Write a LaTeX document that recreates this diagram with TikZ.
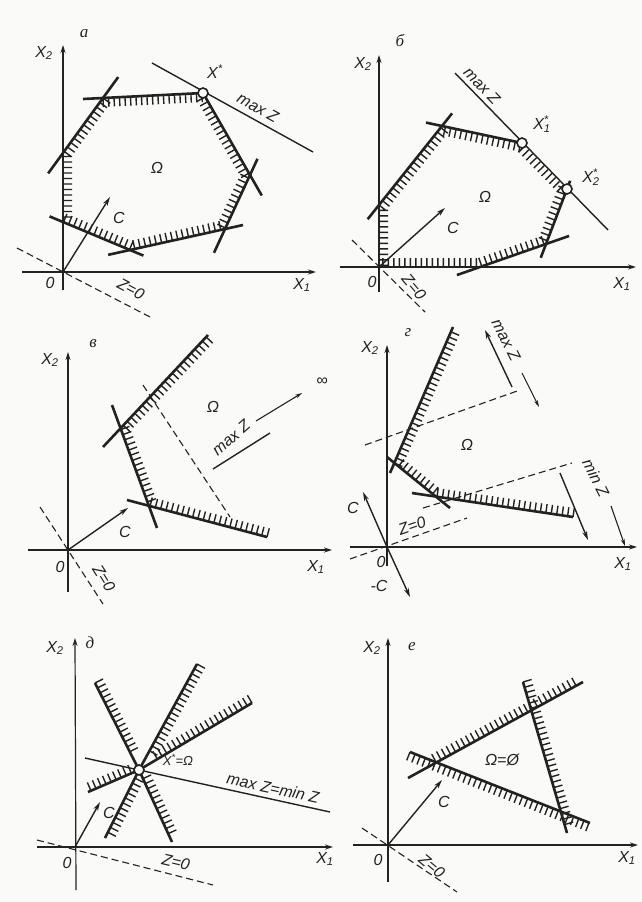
\documentclass[tikz,border=0pt]{standalone}
\usepackage{fontspec}
\setmainfont{Liberation Sans}
\newfontfamily\cyrfont{Liberation Serif}
\usetikzlibrary{calc,arrows.meta,decorations.pathreplacing}
\definecolor{ink}{RGB}{34,34,34}
\definecolor{paper}{RGB}{250,250,248}
\newcommand{\Xs}[1]{X\textsubscript{#1}}
\newcommand{\Xst}[1]{X\rlap{\textsuperscript{*}}\textsubscript{#1}}
\begin{document}
\begin{tikzpicture}[x=1pt,y=-1pt,
  ax/.style={draw=ink,line width=1.2pt,-{Stealth[length=8pt,width=5pt]}},
  cl/.style={draw=ink,line width=2.6pt},
  ml/.style={draw=ink,line width=1.4pt},
  hR/.style={draw=ink,line width=1.4pt,decorate,decoration={border,segment length=5.5pt,amplitude=-9pt,angle=90}},
  hL/.style={draw=ink,line width=1.4pt,decorate,decoration={border,segment length=5.5pt,amplitude=9pt,angle=90}},
  lv/.style={draw=ink,line width=1.1pt,dash pattern=on 7pt off 4pt},
  vec/.style={draw=ink,line width=1.4pt,-{Stealth[length=9pt,width=5pt]}},
  sa/.style={draw=ink,line width=1.1pt,-{Stealth[length=7pt,width=4pt]}},
  lb/.style={text=ink,inner sep=1pt,font=\fontsize{16}{18}\selectfont\itshape},
  sl/.style={text=ink,inner sep=1pt,font=\fontsize{13}{15}\selectfont\itshape},
  pl/.style={text=ink,inner sep=1pt,font=\fontsize{17}{19}\selectfont\cyrfont\itshape},
  pt/.style={circle,draw=ink,line width=1.6pt,fill=paper,minimum size=10pt,inner sep=0pt}
]
\fill[paper] (0,0) rectangle (641,902);
\useasboundingbox (0,0) rectangle (641,902);

% ================= Panel a =================
\coordinate (aO) at (63,272);
\coordinate (aYb) at (63,290); \coordinate (aYt) at (63,45);
\coordinate (aXl) at (22,272); \coordinate (aXr) at (316,272);
\draw[ax] (aYb) -- (aYt);
\draw[ax] (aXl) -- (aXr);
\coordinate (A1) at (103,98);
\coordinate (A2) at (203,93);
\coordinate (A3) at (250,175);
\coordinate (A4) at (225,229);
\coordinate (A5) at (130,250);
\coordinate (A6) at (63,222);
\coordinate (A7) at (63,153);
\draw[cl] ($(A1)!-0.2!(A2)$) -- (A2);
\draw[cl] ($(A7)!-0.37!(A1)$) -- ($(A1)!-0.38!(A7)$);
\draw[cl] ($(A6)!-0.2!(A5)$) -- ($(A5)!-0.2!(A6)$);
\draw[cl] ($(A5)!-0.23!(A4)$) -- ($(A4)!-0.19!(A5)$);
\draw[cl] ($(A4)!-0.44!(A3)$) -- ($(A3)!-0.3!(A4)$);
\draw[cl] (A2) -- ($(A3)!-0.25!(A2)$);
\draw[hR] (A1) -- (A2) -- (A3) -- (A4) -- (A5) -- (A6) -- (A7) -- (A1);
\coordinate (aM1) at (152,63); \coordinate (aM2) at (313,152);
\draw[ml] (aM1) -- (aM2);
\node[pt] (aXs) at (A2) {};
\node[lb] (aXsl) at (215,72) {X\textsuperscript{*}};
\node[lb,rotate=-29] (aMl) at (258,108) {max Z};
\node[lb] (aOm) at (157,168) {Ω};
\coordinate (aC) at (110,197);
\draw[vec] (aO) -- (aC);
\node[lb] (aCl) at (119,218) {C};
\coordinate (aZ1) at (17,248); \coordinate (aZ2) at (150,317);
\draw[lv] (aZ1) -- (aZ2);
\node[lb,rotate=-28] (aZl) at (131,289) {Z=0};
\node[lb] (aX2) at (44,53) {\Xs{2}};
\node[lb] (aX1) at (302,285) {\Xs{1}};
\node[lb] (aO0) at (50,283) {0};
\node[pl] (aP) at (84,34) {а};

% ================= Panel b =================
\coordinate (bO) at (379,267);
\coordinate (bYb) at (379,292); \coordinate (bYt) at (379,55);
\coordinate (bXl) at (340,267); \coordinate (bXr) at (636,267);
\draw[ax] (bYb) -- (bYt);
\draw[ax] (bXl) -- (bXr);
\coordinate (B1) at (379,205);
\coordinate (B2) at (442,126);
\coordinate (B3) at (522,143);
\coordinate (B4) at (567,189);
\coordinate (B5) at (546,244);
\coordinate (B6) at (480,267);
\draw[cl] ($(B1)!-0.18!(B2)$) -- ($(B2)!-0.16!(B1)$);
\draw[cl] ($(B2)!-0.2!(B3)$) -- (B3);
\draw[cl] ($(B5)!-0.25!(B4)$) -- ($(B4)!-0.15!(B5)$);
\draw[cl] ($(B6)!-0.35!(B5)$) -- ($(B5)!-0.35!(B6)$);
\coordinate (bM1) at (455,73); \coordinate (bM2) at (608,230);
\draw[ml] (bM1) -- (bM2);
\draw[hR] (B1) -- (B2) -- (B3) -- (B4) -- (B5) -- (B6) -- (bO) -- (B1);
\node[pt] (bX1) at (B3) {};
\node[pt] (bX2) at (B4) {};
\node[lb] (bX1l) at (542,124) {\Xst{1}};
\node[lb] (bX2l) at (591,177) {\Xst{2}};
\node[lb,rotate=-46] (bMl) at (482,86) {max Z};
\node[lb] (bOm) at (485,197) {Ω};
\coordinate (bC) at (445,208);
\draw[vec] (bO) -- (bC);
\node[lb] (bCl) at (453,228) {C};
\coordinate (bZ1) at (352,240); \coordinate (bZ2) at (425,312);
\draw[lv] (bZ1) -- (bZ2);
\node[lb,rotate=-50] (bZl) at (414,287) {Z=0};
\node[lb] (bX2a) at (363,64) {\Xs{2}};
\node[lb] (bX1a) at (622,284) {\Xs{1}};
\node[lb] (bO0) at (372,282) {0};
\node[pl] (bP) at (400,40) {б};

% ================= Panel v =================
\coordinate (vO) at (68,550);
\coordinate (vYb) at (68,592); \coordinate (vYt) at (68,352);
\coordinate (vXl) at (28,550); \coordinate (vXr) at (332,550);
\draw[ax] (vYb) -- (vYt);
\draw[ax] (vXl) -- (vXr);
\coordinate (vU1) at (103,447); \coordinate (vU2) at (208,335);
\coordinate (vL1) at (112,405); \coordinate (vL2) at (157,528);
\coordinate (vB1) at (127,500); \coordinate (vB2) at (267,537);
\coordinate (V1) at (120.5,428); \coordinate (V2) at (149,506);
\draw[cl] (vU1) -- (vU2);
\draw[cl] (vL1) -- (vL2);
\draw[cl] (vB1) -- (vB2);
\draw[hR] (vB2) -- (V2) -- (V1) -- (vU2);
\coordinate (vD1) at (143,385); \coordinate (vD2) at (230,517);
\draw[lv] (vD1) -- (vD2);
\node[lb] (vOm) at (213,407) {Ω};
\coordinate (vS1) at (213,469); \coordinate (vS2) at (270,433);
\draw[ml] (vS1) -- (vS2);
\node[lb,rotate=41] (vMl) at (231,438) {max Z};
\coordinate (vA1) at (256,421); \coordinate (vA2) at (302,393);
\draw[sa] (vA1) -- (vA2);
\node[lb] (vInf) at (322,382) {∞};
\coordinate (vC) at (128,508);
\draw[vec] (vO) -- (vC);
\node[lb] (vCl) at (125,532) {C};
\coordinate (vZ1) at (40,507); \coordinate (vZ2) at (103,604);
\draw[lv] (vZ1) -- (vZ2);
\node[lb,rotate=-58] (vZl) at (104,578) {Z=0};
\node[lb] (vX2a) at (50,360) {\Xs{2}};
\node[lb] (vX1a) at (316,567) {\Xs{1}};
\node[lb] (vO0) at (60,567) {0};
\node[pl] (vP) at (93,344) {в};

% ================= Panel g =================
\coordinate (gO) at (387,547);
\coordinate (gYb) at (387,566); \coordinate (gYt) at (387,345);
\coordinate (gXl) at (350,547); \coordinate (gXr) at (637,547);
\draw[ax] (gYb) -- (gYt);
\draw[ax] (gXl) -- (gXr);
\coordinate (gL1a) at (390,473); \coordinate (gL1b) at (453,327);
\coordinate (gL2a) at (387,457); \coordinate (gL2b) at (450,508);
\coordinate (gL3a) at (412,493); \coordinate (gL3b) at (573,517);
\coordinate (G1) at (394,463); \coordinate (G2) at (436,497);
\draw[cl] (gL1a) -- (gL1b);
\draw[cl] (gL2a) -- (gL2b);
\draw[cl] (gL3a) -- (gL3b);
\draw[hR] (gL3b) -- (G2) -- (G1) -- (gL1b);
\coordinate (gD1a) at (365,445); \coordinate (gD1b) at (520,390);
\coordinate (gD2a) at (423,508); \coordinate (gD2b) at (572,463);
\coordinate (gZa) at (350,559); \coordinate (gZb) at (467,518);
\draw[lv] (gD1a) -- (gD1b);
\draw[lv] (gD2a) -- (gD2b);
\draw[lv] (gZa) -- (gZb);
\node[lb] (gOm) at (467,445) {Ω};
\coordinate (gS1) at (512,387); \coordinate (gS2) at (485,330);
\draw[vec] (gS1) -- (gS2);
\node[lb,rotate=-63] (gMl) at (506,340) {max Z};
\coordinate (gA1) at (522,373); \coordinate (gA2) at (539,407);
\draw[sa] (gA1) -- (gA2);
\coordinate (gT1) at (560,473); \coordinate (gT2) at (588,540);
\draw[vec] (gT1) -- (gT2);
\node[lb,rotate=-63] (gNl) at (596,478) {min Z};
\coordinate (gB1) at (611,506); \coordinate (gB2) at (625,546);
\draw[sa] (gB1) -- (gB2);
\coordinate (gC) at (363,492); \coordinate (gmC) at (410,597);
\draw[vec] (gO) -- (gC);
\draw[vec] (gO) -- (gmC);
\node[lb] (gCl) at (353,508) {C};
\node[lb] (gmCl) at (379,586) {-C};
\node[lb,rotate=19] (gZl) at (412,526) {Z=0};
\node[lb] (gX2a) at (370,348) {\Xs{2}};
\node[lb] (gX1a) at (623,564) {\Xs{1}};
\node[lb] (gO0) at (381,562) {0};
\node[pl] (gP) at (408,333) {г};

% ================= Panel d =================
\coordinate (dO) at (75,847);
\coordinate (dYb) at (76,890); \coordinate (dYt) at (75,638);
\coordinate (dXl) at (37,847); \coordinate (dXr) at (333,847);
\draw[ax] (dYb) -- (dYt);
\draw[ax] (dXl) -- (dXr);
\coordinate (P) at (139,770);
\coordinate (dA1) at (95,683); \coordinate (dA2) at (172,842);
\coordinate (dB1) at (197,664); \coordinate (dB2) at (105,838);
\coordinate (dC1) at (252,703); \coordinate (dC2) at (88,792);
\coordinate (dD1) at (85,758); \coordinate (dD2) at (330,812);
\draw[cl] (dA1) -- (P) -- (dA2);
\draw[cl] (dB1) -- (P) -- (dB2);
\draw[cl] (dC1) -- (P) -- (dC2);
\draw[ml] (dD1) -- (P) -- (dD2);
\draw[hL] (dA1) -- ($(P)!0.12!(dA1)$);
\draw[hL] ($(P)!0.12!(dA2)$) -- (dA2);
\draw[hL] (dB1) -- ($(P)!0.12!(dB1)$);
\draw[hL] ($(P)!0.12!(dB2)$) -- (dB2);
\draw[hR] (dC1) -- ($(P)!0.12!(dC1)$);
\draw[hR] ($(P)!0.15!(dC2)$) -- (dC2);
\node[pt] (dPt) at (P) {};
\node[sl] (dXl2) at (178,760) {X\textsuperscript{*}=Ω};
\node[lb,rotate=-12] (dMl) at (273,788) {max Z=min Z};
\coordinate (dC) at (100,802);
\draw[vec] (dO) -- (dC);
\node[lb] (dCl) at (109,813) {C};
\coordinate (dZ1) at (37,840); \coordinate (dZ2) at (213,885);
\draw[lv] (dZ1) -- (dZ2);
\node[lb,rotate=-13] (dZl) at (176,862) {Z=0};
\node[lb] (dX2a) at (55,648) {\Xs{2}};
\node[lb] (dX1a) at (325,859) {\Xs{1}};
\node[lb] (dO0) at (67,863) {0};
\node[pl] (dP) at (90,643) {д};

% ================= Panel e =================
\coordinate (eO) at (388,845);
\coordinate (eYb) at (388,882); \coordinate (eYt) at (388,638);
\coordinate (eXl) at (353,845); \coordinate (eXr) at (638,845);
\draw[ax] (eYb) -- (eYt);
\draw[ax] (eXl) -- (eXr);
\coordinate (eA1) at (408,778); \coordinate (eA2) at (583,682);
\coordinate (eB1) at (410,752); \coordinate (eB2) at (590,823);
\coordinate (eC1) at (523,682); \coordinate (eC2) at (567,833);
\coordinate (E12) at (436,762);
\draw[cl] (eA1) -- (eA2);
\draw[cl] (eB1) -- (eB2);
\draw[cl] (eC1) -- (eC2);
\draw[hL] (E12) -- (eA2);
\draw[hR] (eB1) -- (eB2);
\draw[hL] (eC1) -- (eC2);
\node[lb] (eOm) at (502,760) {Ω=Ø};
\coordinate (eC) at (442,780);
\draw[vec] (eO) -- (eC);
\node[lb] (eCl) at (444,802) {C};
\coordinate (eZ1) at (362,828); \coordinate (eZ2) at (457,892);
\draw[lv] (eZ1) -- (eZ2);
\node[lb,rotate=-40] (eZl) at (432,866) {Z=0};
\node[lb] (eX2a) at (372,648) {\Xs{2}};
\node[lb] (eX1a) at (627,858) {\Xs{1}};
\node[lb] (eO0) at (378,860) {0};
\node[pl] (eP) at (412,647) {е};
\end{tikzpicture}
\end{document}
